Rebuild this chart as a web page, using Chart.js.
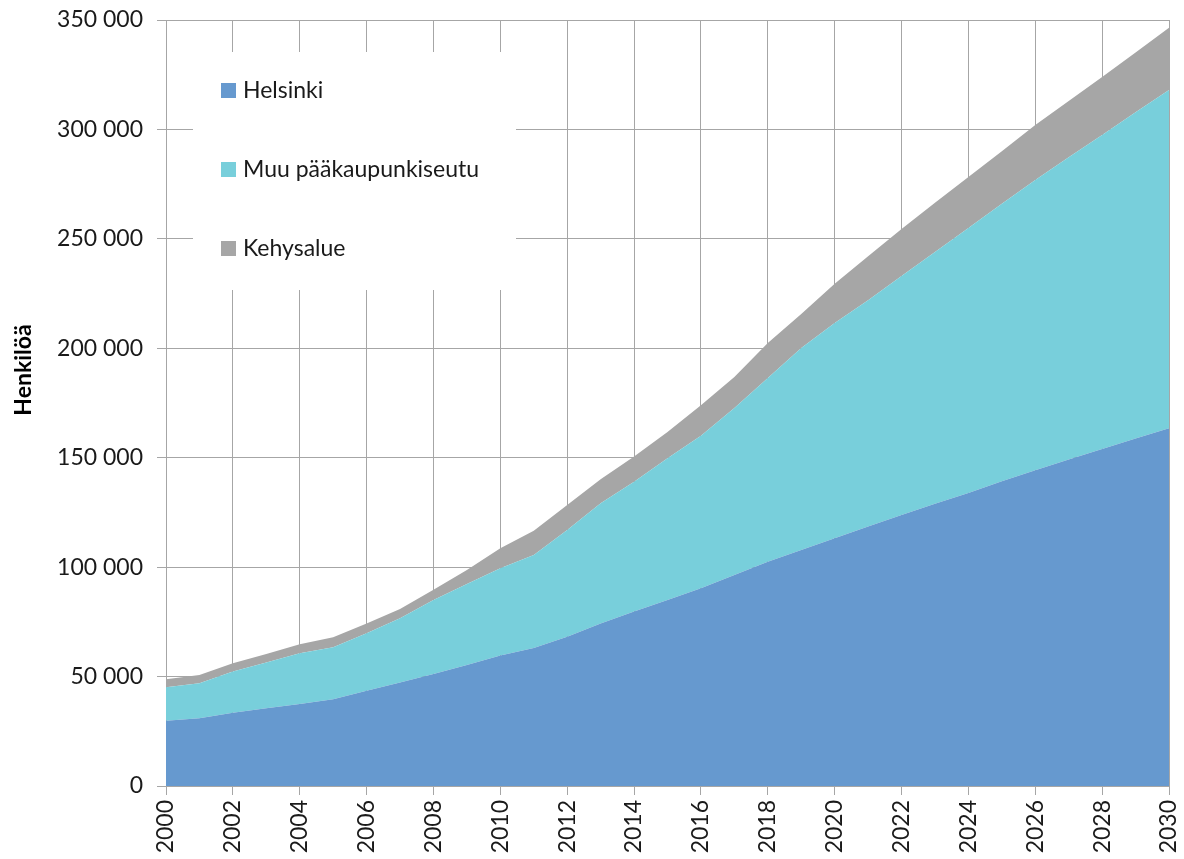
<!DOCTYPE html>
<html>
<head>
<meta charset="utf-8">
<script src="https://cdn.jsdelivr.net/npm/chart.js@4"></script>
<style>
  html, body { margin: 0; padding: 0; background: #fff; }
  #wrap { width: 1184px; height: 859px; }
</style>
</head>
<body>
<div id="wrap"><canvas id="vaesto"></canvas></div>
<script>
// vuodet
const years = [2000, 2001, 2002, 2003, 2004, 2005, 2006, 2007, 2008, 2009, 2010,
  2011, 2012, 2013, 2014, 2015, 2016, 2017, 2018, 2019, 2020,
  2021, 2022, 2023, 2024, 2025, 2026, 2027, 2028, 2029, 2030];

// sarjat (henkilöä), luettu kuvasta
const helsinki = [29800, 30900, 33500, 35500, 37500, 39600, 43500, 47300, 51200, 55300, 59600,
  63000, 68200, 74300, 79700, 85000, 90300, 96400, 102500, 107800, 113200,
  118600, 123800, 129000, 133900, 139200, 144300, 149200, 154000, 158800, 163500];
const muuPks = [15300, 16000, 18800, 20900, 23100, 23800, 26300, 29300, 33800, 37000, 39900,
  42600, 48800, 54900, 59300, 64700, 69700, 76300, 83900, 92300, 98300,
  103400, 109200, 115000, 121100, 126800, 132600, 138100, 143500, 149000, 154500];
const kehys = [3700, 3800, 3800, 3900, 4200, 4600, 4400, 4300, 4700, 6400, 9100,
  11000, 11400, 11000, 11500, 12000, 14000, 14200, 16000, 15600, 18000,
  20000, 21500, 22500, 23300, 24000, 25100, 25700, 26500, 27400, 28500];

const seriesNames = ['Helsinki', 'Muu pääkaupunkiseutu', 'Kehysalue'];
const colors = ['#6699CF', '#78CFDB', '#A6A6A6'];
const yTitle = 'Henkilöä';

const FONT = 'Lato';
const gridCol = '#A6A6A6';

// välilyönti tuhaterottimena
function fmt(v) {
  return String(v).replace(/\B(?=(\d{3})+(?!\d))/g, ' ');
}

function pts(arr) {
  return arr.map((v, i) => ({ x: years[i], y: v }));
}

const datasets = [helsinki, muuPks, kehys].map((arr, i) => ({
  label: seriesNames[i],
  data: pts(arr),
  backgroundColor: colors[i],
  borderWidth: 0,
  pointRadius: 0,
  tension: 0,
  fill: i === 0 ? 'origin' : '-1'
}));

// selite piirroksen sisään, valkoinen tausta ruudukon päällä
const insideLegend = {
  id: 'insideLegend',
  beforeDatasetsDraw(chart) {
    const ctx = chart.ctx;
    const a = chart.chartArea;
    ctx.save();
    ctx.fillStyle = '#fff';
    ctx.fillRect(a.left + 27, a.top + 32, 323, 238);
    ctx.font = '23px ' + FONT;
    ctx.textBaseline = 'middle';
    chart.data.datasets.forEach((ds, i) => {
      const cy = a.top + 71 + i * 79;
      ctx.fillStyle = ds.backgroundColor;
      ctx.fillRect(a.left + 55, cy - 8, 15, 15);
      ctx.fillStyle = '#1a1a1a';
      ctx.fillText(ds.label, a.left + 77, cy);
    });
    ctx.restore();
  },
  afterDraw(chart) {
    const ctx = chart.ctx;
    ctx.save();
    ctx.translate(24, 370);
    ctx.rotate(-Math.PI / 2);
    ctx.font = 'bold 23px ' + FONT;
    ctx.fillStyle = '#000';
    ctx.textAlign = 'center';
    ctx.textBaseline = 'middle';
    ctx.fillText(yTitle, 0, 0);
    ctx.restore();
  }
};

const config = {
  type: 'line',
  data: { datasets },
  options: {
    responsive: true,
    maintainAspectRatio: false,
    animation: false,
    layout: { padding: { top: 20, right: 15, left: 0, bottom: 0 } },
    plugins: {
      legend: { display: false },
      tooltip: { enabled: false }
    },
    scales: {
      x: {
        type: 'linear',
        min: 2000,
        max: 2030,
        afterFit(scale) {
          scale.height = 73;
          scale.paddingLeft = 0;
          scale.paddingRight = 0;
        },
        ticks: {
          stepSize: 2,
          maxRotation: 90,
          minRotation: 90,
          padding: 5,
          color: '#1a1a1a',
          font: { family: FONT, size: 23 },
          callback: (v) => String(v)
        },
        grid: { color: gridCol, lineWidth: 1, tickLength: 9 },
        border: { color: gridCol }
      },
      y: {
        stacked: true,
        min: 0,
        max: 350000,
        afterFit(scale) {
          scale.width = 166;
          scale.paddingTop = 0;
          scale.paddingBottom = 0;
        },
        ticks: {
          stepSize: 50000,
          padding: 14,
          color: '#1a1a1a',
          font: { family: FONT, size: 23 },
          callback: (v) => fmt(v)
        },
        grid: { color: gridCol, lineWidth: 1, tickLength: 9 },
        border: { color: gridCol }
      }
    }
  },
  plugins: [insideLegend]
};

const canvas = document.getElementById('vaesto');
const chart = new Chart(canvas, config);
</script>
</body>
</html>
